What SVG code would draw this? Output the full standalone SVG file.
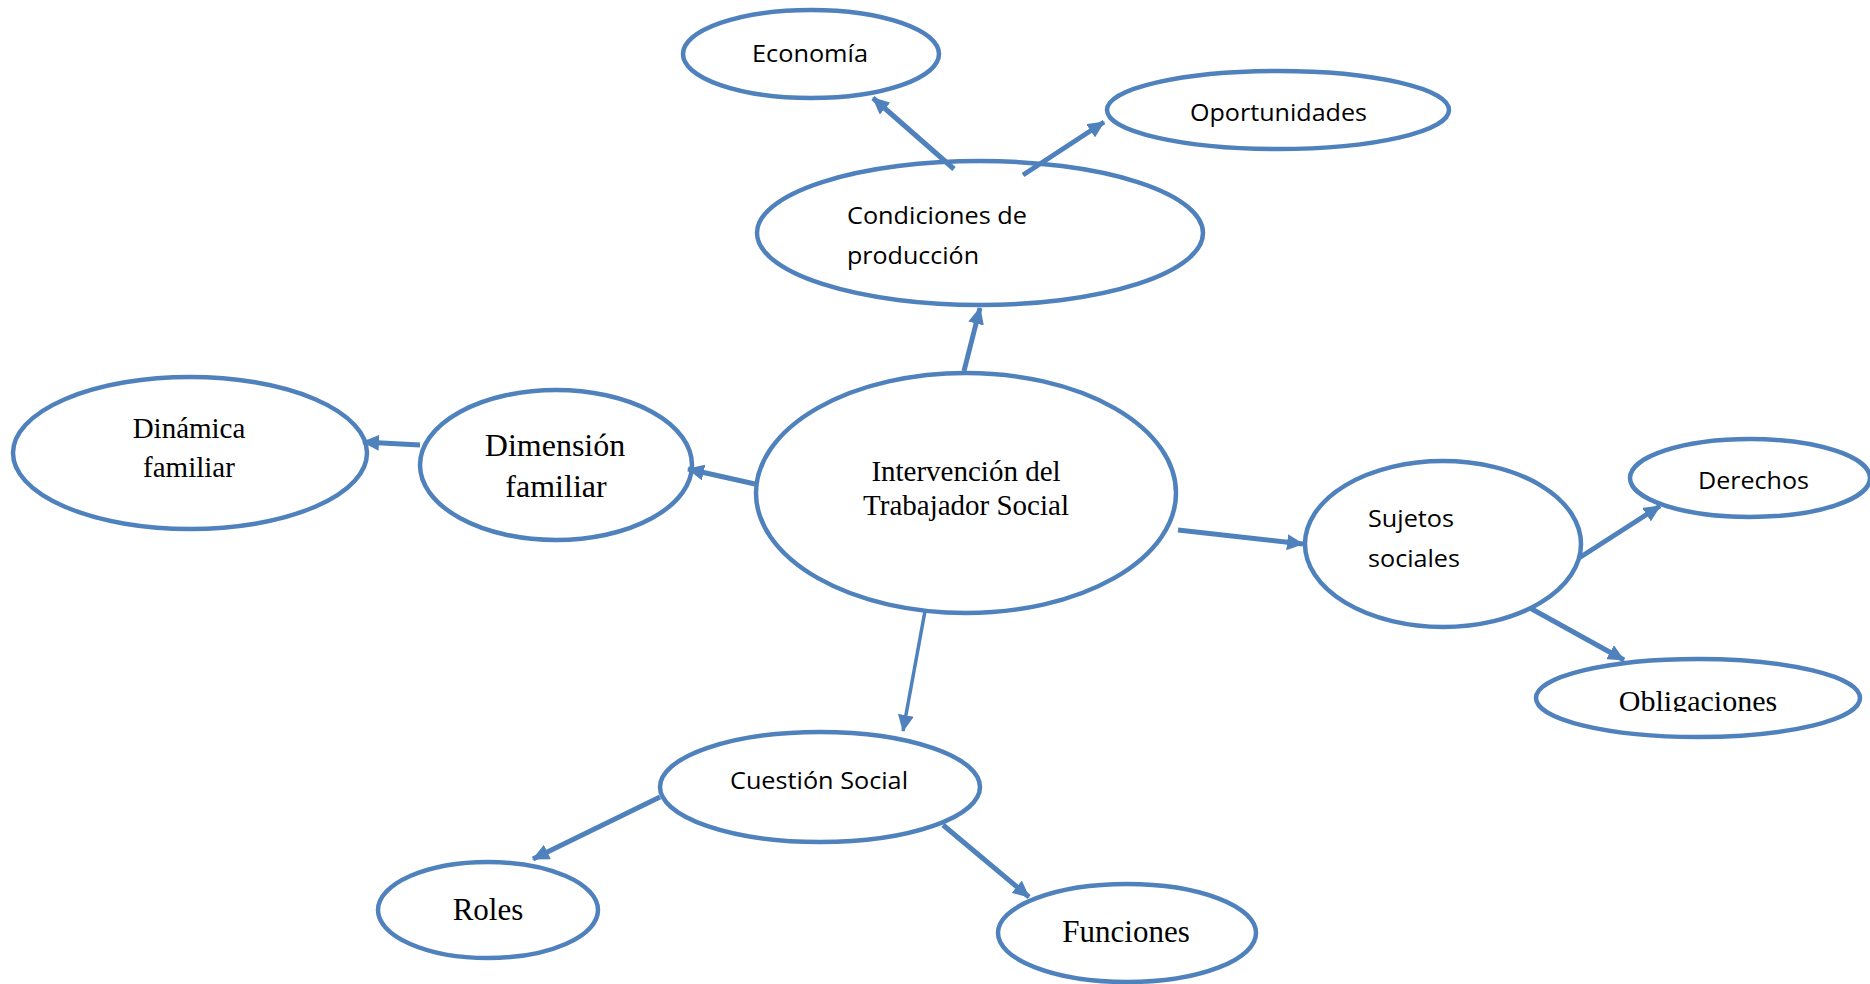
<svg xmlns="http://www.w3.org/2000/svg" width="1870" height="984" viewBox="0 0 1870 984">
<defs>
<marker id="ah" markerUnits="userSpaceOnUse" markerWidth="18" markerHeight="16" refX="16" refY="8" orient="auto">
<path d="M0,0 L17,8 L0,16 Z" fill="#4F81BD"/>
</marker>
<clipPath id="obClip"><rect x="1500" y="640" width="370" height="72"/></clipPath>
<style>
.node ellipse{fill:#fff;stroke:#4F81BD;stroke-width:4.5}
.conn line{stroke:#4F81BD;stroke-width:5;marker-end:url(#ah)}
.cal{font-family:"Open Sans","Noto Sans",sans-serif;font-size:23px;fill:#000}
.tim{font-family:"Liberation Serif","Times New Roman",serif;fill:#000;text-anchor:middle}
</style>
</defs>
<rect width="1870" height="984" fill="#fff"/>
<g id="economia" class="node"><ellipse cx="811" cy="54" rx="128" ry="44"/><text class="cal" x="752" y="62" textLength="116" lengthAdjust="spacingAndGlyphs">Economía</text></g>
<g id="oportunidades" class="node"><ellipse cx="1278" cy="110" rx="171" ry="39"/><text class="cal" x="1190" y="121" textLength="177" lengthAdjust="spacingAndGlyphs">Oportunidades</text></g>
<g id="condiciones" class="node"><ellipse cx="980" cy="233" rx="223" ry="72"/><text class="cal" x="847" y="224" textLength="180" lengthAdjust="spacingAndGlyphs">Condiciones de</text><text class="cal" x="847" y="264" textLength="132" lengthAdjust="spacingAndGlyphs">producción</text></g>
<g id="intervencion" class="node"><ellipse cx="966" cy="493" rx="210" ry="120"/><text class="tim" x="966" y="481" font-size="29">Intervención del</text><text class="tim" x="966" y="515" font-size="29">Trabajador Social</text></g>
<g id="dimension" class="node"><ellipse cx="556" cy="465" rx="136" ry="75"/><text class="tim" x="555" y="456" font-size="32">Dimensión</text><text class="tim" x="556" y="497" font-size="32">familiar</text></g>
<g id="dinamica" class="node"><ellipse cx="190" cy="453" rx="177" ry="76"/><text class="tim" x="189" y="438" font-size="29">Dinámica</text><text class="tim" x="189" y="477" font-size="29">familiar</text></g>
<g id="sujetos" class="node"><ellipse cx="1443" cy="544" rx="138" ry="83"/><text class="cal" x="1368" y="527" textLength="86" lengthAdjust="spacingAndGlyphs">Sujetos</text><text class="cal" x="1368" y="567" textLength="92" lengthAdjust="spacingAndGlyphs">sociales</text></g>
<g id="derechos" class="node"><ellipse cx="1750" cy="478" rx="120" ry="39"/><text class="cal" x="1698" y="489" textLength="111" lengthAdjust="spacingAndGlyphs">Derechos</text></g>
<g id="obligaciones" class="node"><ellipse cx="1698" cy="698" rx="162" ry="39"/><text class="tim" x="1698" y="711" font-size="30" clip-path="url(#obClip)">Obligaciones</text></g>
<g id="cuestion" class="node"><ellipse cx="820" cy="787" rx="160" ry="55"/><text class="cal" x="730" y="789" textLength="178" lengthAdjust="spacingAndGlyphs">Cuestión Social</text></g>
<g id="roles" class="node"><ellipse cx="488" cy="910" rx="110" ry="48"/><text class="tim" x="488" y="920" font-size="31">Roles</text></g>
<g id="funciones" class="node"><ellipse cx="1127" cy="933" rx="129" ry="49"/><text class="tim" x="1126" y="942" font-size="31">Funciones</text></g>
<g id="connectors" class="conn">
<line x1="964" y1="371" x2="980" y2="308"/>
<line x1="954" y1="169" x2="873" y2="98"/>
<line x1="1023" y1="175" x2="1104" y2="122"/>
<line x1="755" y1="484" x2="688" y2="469"/>
<line x1="420" y1="445" x2="363" y2="442"/>
<line x1="1178" y1="530" x2="1303" y2="544"/>
<line x1="1579" y1="558" x2="1660" y2="506"/>
<line x1="1530" y1="608" x2="1624" y2="660"/>
<line x1="925" y1="611" x2="903" y2="731" style="stroke-width:3.5"/>
<line x1="660" y1="797" x2="533" y2="859"/>
<line x1="943" y1="825" x2="1029" y2="897"/>
</g>
</svg>
